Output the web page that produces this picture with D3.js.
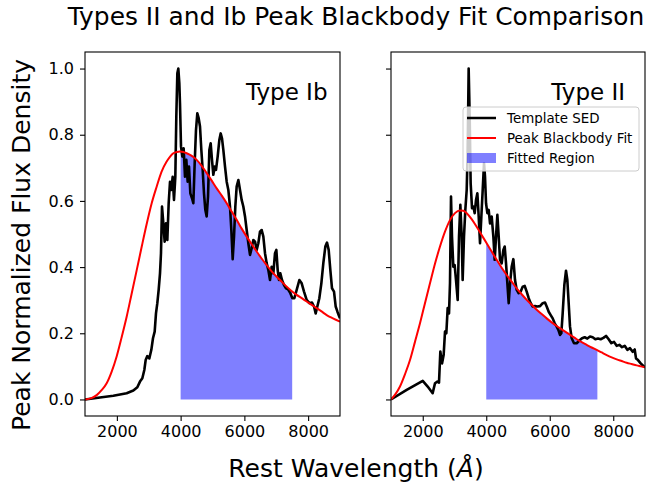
<!DOCTYPE html>
<html>
<head>
<meta charset="utf-8">
<script src="https://cdn.jsdelivr.net/npm/d3@7"></script>
<style>
  html, body { margin: 0; padding: 0; background: #fff; }
  svg { display: block; font-family: "DejaVu Sans", sans-serif; }
</style>
</head>
<body>
<svg id="chart" width="651" height="490"></svg>
<script>
// ---- Type Ib template SED (rest wavelength in Å, peak-normalised flux) ----
const ibWavelength = [1000,1470,1889,2307,2516,2642,2725,2799,2861,2903,2955,3018,3081,3133,3186,3227,3269,3311,3353,3384,3416,3458,3499,3541,3583,3625,3667,3709,3750,3792,3834,3865,3897,3928,3959,3980,4012,4054,4095,4137,4179,4221,4263,4305,4357,4399,4441,4482,4524,4566,4608,4650,4692,4733,4775,4817,4859,4901,4943,4984,5026,5068,5110,5162,5214,5256,5298,5340,5392,5445,5497,5549,5591,5633,5675,5716,5758,5811,5863,5915,5967,6020,6072,6124,6177,6229,6281,6333,6386,6438,6490,6543,6595,6647,6699,6752,6804,6856,6909,6961,7003,7045,7087,7128,7180,7243,7306,7369,7432,7505,7568,7641,7725,7798,7871,7954,8038,8122,8185,8237,8289,8352,8415,8477,8540,8592,8645,8697,8749,8812,8864,8917,8979,9000];
const ibFlux = [0.000,0.006,0.011,0.019,0.027,0.037,0.054,0.064,0.089,0.119,0.131,0.124,0.150,0.185,0.205,0.260,0.291,0.331,0.381,0.442,0.583,0.532,0.477,0.532,0.482,0.593,0.658,0.633,0.673,0.603,0.673,0.855,0.986,1.000,0.956,0.895,0.764,0.734,0.759,0.673,0.724,0.658,0.704,0.623,0.608,0.593,0.714,0.814,0.865,0.850,0.825,0.754,0.694,0.623,0.573,0.553,0.613,0.754,0.774,0.724,0.679,0.704,0.694,0.734,0.784,0.804,0.789,0.754,0.704,0.658,0.633,0.583,0.512,0.424,0.492,0.583,0.643,0.663,0.633,0.603,0.583,0.553,0.512,0.472,0.437,0.457,0.482,0.477,0.452,0.472,0.507,0.512,0.492,0.442,0.412,0.391,0.361,0.401,0.381,0.442,0.452,0.391,0.361,0.381,0.361,0.346,0.336,0.333,0.323,0.306,0.306,0.331,0.361,0.351,0.326,0.301,0.291,0.293,0.281,0.260,0.281,0.306,0.351,0.412,0.462,0.474,0.452,0.391,0.336,0.326,0.281,0.266,0.250,0.245];

// ---- Type Ib peak blackbody fit ----
const ibFitWavelength = [1000,1200,1366,1520,1680,1840,1993,2150,2307,2460,2621,2780,2935,3090,3248,3400,3562,3670,3771,3880,3980,4080,4190,4350,4503,4660,4817,4970,5131,5290,5445,5600,5758,5910,6072,6230,6386,6540,6699,6850,7013,7170,7327,7480,7641,7800,7954,8110,8268,8420,8582,8780,9000];
const ibFitFlux = [0.000,0.004,0.013,0.028,0.049,0.085,0.130,0.188,0.250,0.318,0.390,0.462,0.530,0.592,0.643,0.688,0.719,0.734,0.744,0.748,0.749,0.748,0.744,0.736,0.724,0.706,0.684,0.662,0.638,0.616,0.593,0.568,0.543,0.517,0.492,0.469,0.447,0.426,0.406,0.388,0.371,0.356,0.341,0.328,0.316,0.306,0.296,0.286,0.276,0.266,0.255,0.245,0.235];

// ---- Type II template SED ----
const iiWavelength = [1000,1494,2000,2155,2312,2386,2460,2512,2554,2607,2659,2701,2743,2785,2827,2858,2890,2921,2963,3005,3047,3100,3142,3184,3226,3257,3299,3341,3384,3415,3446,3478,3509,3552,3594,3636,3678,3720,3762,3804,3846,3888,3930,3961,3993,4035,4077,4119,4171,4224,4266,4308,4350,4392,4434,4486,4539,4581,4623,4665,4707,4749,4801,4854,4906,4959,5022,5085,5148,5211,5274,5337,5400,5463,5536,5610,5694,5778,5851,5904,5967,6030,6093,6156,6218,6271,6323,6365,6407,6460,6512,6554,6596,6638,6691,6764,6848,6933,7017,7101,7184,7268,7352,7436,7520,7604,7689,7772,7856,7940,8024,8108,8192,8276,8360,8444,8528,8612,8675,8717,8780,8864,8948,9000];
const iiFlux = [0.000,0.029,0.056,0.039,0.019,0.049,0.054,0.051,0.145,0.109,0.135,0.205,0.200,0.276,0.260,0.351,0.613,0.492,0.401,0.406,0.361,0.301,0.492,0.588,0.492,0.361,0.492,0.573,0.633,0.754,1.000,0.855,0.653,0.578,0.583,0.563,0.603,0.623,0.553,0.472,0.553,0.633,0.714,0.673,0.593,0.563,0.573,0.532,0.553,0.492,0.422,0.492,0.558,0.492,0.422,0.411,0.452,0.462,0.411,0.351,0.291,0.351,0.401,0.424,0.361,0.331,0.321,0.326,0.341,0.343,0.326,0.306,0.291,0.281,0.282,0.281,0.282,0.291,0.293,0.281,0.265,0.255,0.245,0.230,0.220,0.210,0.195,0.200,0.260,0.346,0.389,0.361,0.291,0.220,0.185,0.170,0.170,0.178,0.185,0.188,0.184,0.190,0.188,0.182,0.184,0.182,0.186,0.192,0.182,0.170,0.174,0.162,0.165,0.158,0.162,0.150,0.155,0.144,0.151,0.124,0.119,0.109,0.101,0.097];

// ---- Type II peak blackbody fit ----
const iiFitWavelength = [1000,1140,1283,1440,1598,1755,1913,2070,2228,2385,2543,2700,2858,3015,3173,3280,3384,3540,3698,3855,4013,4170,4328,4485,4643,4800,4958,5116,5274,5430,5588,5745,5903,6060,6218,6375,6533,6690,6848,7005,7163,7320,7478,7635,7793,7950,8108,8265,8423,8580,8738,8870,9000];
const iiFitFlux = [0.000,0.016,0.039,0.076,0.119,0.174,0.230,0.291,0.351,0.410,0.462,0.507,0.542,0.563,0.571,0.570,0.563,0.545,0.522,0.497,0.472,0.447,0.422,0.398,0.376,0.356,0.336,0.318,0.301,0.286,0.271,0.258,0.245,0.233,0.222,0.212,0.202,0.192,0.182,0.173,0.165,0.157,0.150,0.142,0.134,0.127,0.121,0.116,0.111,0.107,0.103,0.100,0.097];

// Wavelength window used for the fit
const fitRange = [4000, 7500];

const xTicks = [2000, 4000, 6000, 8000];
const yTicks = [0.0, 0.2, 0.4, 0.6, 0.8, 1.0];

const legendItems = ["Template SED", "Peak Blackbody Fit", "Fitted Region"];

const panels = [
  { name: "Type Ib", left: 85, right: 340, sed: [ibWavelength, ibFlux], fit: [ibFitWavelength, ibFitFlux], yLabels: true, legend: false },
  { name: "Type II", left: 391, right: 645, sed: [iiWavelength, iiFlux], fit: [iiFitWavelength, iiFitFlux], yLabels: false, legend: true }
];

const svg = d3.select("#chart");
const plotTop = 52, plotBottom = 416;
const y = d3.scaleLinear().domain([-0.05, 1.05]).range([plotBottom, plotTop]);
const defs = svg.append("defs");

panels.forEach((p, i) => {
  const x = d3.scaleLinear().domain([1000, 9000]).range([p.left, p.right]);
  const g = svg.append("g");

  const clipId = "fit-clip-" + i;
  defs.append("clipPath").attr("id", clipId)
    .append("rect")
    .attr("x", x(fitRange[0])).attr("y", plotTop)
    .attr("width", x(fitRange[1]) - x(fitRange[0])).attr("height", plotBottom - plotTop);

  const plotClip = "plot-clip-" + i;
  defs.append("clipPath").attr("id", plotClip)
    .append("rect")
    .attr("x", p.left).attr("y", plotTop)
    .attr("width", p.right - p.left).attr("height", plotBottom - plotTop);

  const fitPts = p.fit[0].map((w, k) => [w, p.fit[1][k]]);
  const sedPts = p.sed[0].map((w, k) => [w, p.sed[1][k]]);

  // fitted region: area under the blackbody fit inside the fit window
  g.append("path")
    .datum(fitPts)
    .attr("clip-path", `url(#${clipId})`)
    .attr("fill", "#0000ff")
    .attr("fill-opacity", 0.5)
    .attr("d", d3.area().x(d => x(d[0])).y0(y(0)).y1(d => y(d[1])).curve(d3.curveMonotoneX));

  const lines = g.append("g").attr("clip-path", `url(#${plotClip})`);
  lines.append("path")
    .datum(sedPts)
    .attr("fill", "none")
    .attr("stroke", "#000")
    .attr("stroke-width", 2.6)
    .attr("stroke-linejoin", "round")
    .attr("d", d3.line().x(d => x(d[0])).y(d => y(d[1])));

  lines.append("path")
    .datum(fitPts)
    .attr("fill", "none")
    .attr("stroke", "#ff0000")
    .attr("stroke-width", 2)
    .attr("d", d3.line().x(d => x(d[0])).y(d => y(d[1])).curve(d3.curveMonotoneX));

  // axes
  const xAxis = d3.axisBottom(x).tickValues(xTicks).tickSize(5).tickPadding(5).tickFormat(d3.format("d"));
  const xg = svg.append("g").attr("transform", `translate(0,${plotBottom})`).call(xAxis);
  const yAxis = d3.axisLeft(y).tickValues(yTicks).tickSize(5).tickPadding(6)
    .tickFormat(p.yLabels ? d3.format(".1f") : () => "");
  const yg = svg.append("g").attr("transform", `translate(${p.left},0)`).call(yAxis);
  [xg, yg].forEach(a => {
    a.select(".domain").remove();
    a.selectAll(".tick line").attr("stroke", "#000").attr("stroke-width", 1.1);
    a.selectAll(".tick text").attr("font-size", 16).attr("fill", "#000")
      .attr("font-family", "DejaVu Sans");
  });

  // frame
  svg.append("rect")
    .attr("x", p.left).attr("y", plotTop)
    .attr("width", p.right - p.left).attr("height", plotBottom - plotTop)
    .attr("fill", "none").attr("stroke", "#000").attr("stroke-width", 1.1);

  // panel label
  svg.append("text")
    .attr("x", x(6050)).attr("y", y(0.905))
    .attr("font-size", 23).attr("fill", "#000")
    .text(p.name);

  if (p.legend) {
    const lg = svg.append("g").attr("transform", "translate(463,107)");
    lg.append("rect").attr("width", 176).attr("height", 64).attr("rx", 3)
      .attr("fill", "#fff").attr("fill-opacity", 0.8)
      .attr("stroke", "#ccc").attr("stroke-width", 1);
    const rowY = [11, 31, 51];
    lg.append("line").attr("x1", 4).attr("x2", 33).attr("y1", rowY[0]).attr("y2", rowY[0])
      .attr("stroke", "#000").attr("stroke-width", 2.5);
    lg.append("line").attr("x1", 4).attr("x2", 33).attr("y1", rowY[1]).attr("y2", rowY[1])
      .attr("stroke", "#ff0000").attr("stroke-width", 2);
    lg.append("rect").attr("x", 4).attr("y", rowY[2] - 5).attr("width", 29).attr("height", 10)
      .attr("fill", "#0000ff").attr("fill-opacity", 0.5);
    legendItems.forEach((t, k) => {
      lg.append("text").attr("x", 44).attr("y", rowY[k]).attr("dy", "0.36em")
        .attr("font-size", 13.4).attr("fill", "#000").text(t);
    });
  }
});

// titles
svg.append("text").attr("x", 356).attr("y", 25).attr("text-anchor", "middle")
  .attr("font-size", 24.9).attr("fill", "#000")
  .text("Types II and Ib Peak Blackbody Fit Comparison");

const xl = svg.append("text").attr("x", 356).attr("y", 477).attr("text-anchor", "middle")
  .attr("font-size", 25).attr("fill", "#000");
xl.append("tspan").text("Rest Wavelength (");
xl.append("tspan").attr("font-style", "italic").text("Å");
xl.append("tspan").text(")");

svg.append("text").attr("transform", "translate(30,245) rotate(-90)")
  .attr("text-anchor", "middle").attr("font-size", 25).attr("fill", "#000")
  .text("Peak Normalized Flux Density");
</script>
</body>
</html>
